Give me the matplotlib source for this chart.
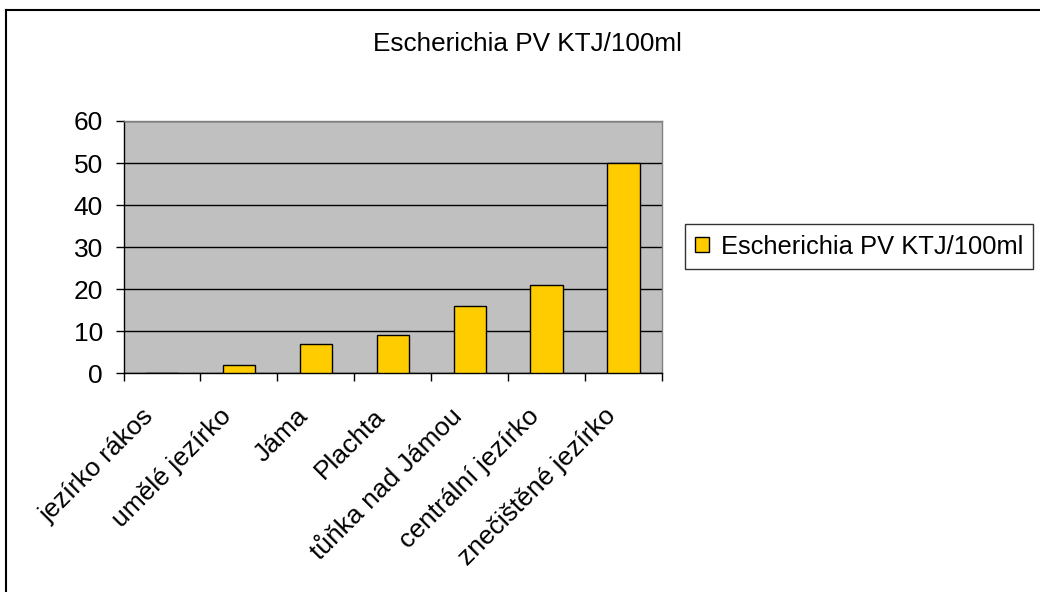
import matplotlib
matplotlib.use("Agg")
import matplotlib.pyplot as plt
from matplotlib.lines import Line2D
from matplotlib.transforms import ScaledTranslation
import numpy as np

categories = ["jezírko rákos", "umělé jezírko", "Jáma", "Plachta",
              "tůňka nad Jámou", "centrální jezírko", "znečištěné jezírko"]
values = [0, 2, 7, 9, 16, 21, 50]
series_name = "Escherichia PV KTJ/100ml"
title = "Escherichia PV KTJ/100ml"
yticks = [0, 10, 20, 30, 40, 50, 60]

plt.rcParams['font.family'] = ['Liberation Sans', 'DejaVu Sans']

fig = plt.figure(figsize=(10.4, 5.92), dpi=100)
W, H = 1040, 592
left, right, top, bottom = 123.5, 662, 121, 373.3
ax = fig.add_axes([left / W, 1 - bottom / H, (right - left) / W, (bottom - top) / H])
ax.set_facecolor("#C0C0C0")

x = np.arange(len(categories))
ax.bar(x, values, width=0.42, color="#FFCC00", edgecolor="black", linewidth=1.0,
       label=series_name, zorder=3)

ax.set_xlim(-0.5, len(categories) - 0.5)
ax.set_ylim(0, 60)
ax.set_yticks(yticks)
ax.set_yticklabels([str(v) for v in yticks], fontsize=19)
ax.yaxis.grid(True, color="black", linewidth=1.0, zorder=1)
ax.set_axisbelow(True)

ax.set_xticks(x)
ax.set_xticklabels(categories, fontsize=19, rotation=45, ha="right",
                   rotation_mode="anchor")
ax.tick_params(axis="x", which="major", length=0, pad=22)
off = ScaledTranslation(-20 / 100, 0, fig.dpi_scale_trans)
for lab in ax.get_xticklabels():
    lab.set_transform(lab.get_transform() + off)
ax.set_xticks(np.arange(-0.5, len(categories) + 0.5, 1), minor=True)
ax.tick_params(axis="x", which="minor", length=5.5, width=1, color="black")
ax.tick_params(axis="y", length=5.8, width=1, color="black", pad=9)

for s in ["top", "right"]:
    ax.spines[s].set_color("#808080")
    ax.spines[s].set_linewidth(1.0)
for s in ["left", "bottom"]:
    ax.spines[s].set_color("black")
    ax.spines[s].set_linewidth(1.0)

fig.text(527 / W, 1 - 44 / H, title, fontsize=18.8, ha="center", va="center")

leg = fig.legend(loc="center left", bbox_to_anchor=(685 / W, 1 - 246.5 / H),
                 fontsize=18.4, frameon=True, fancybox=False, shadow=False,
                 handlelength=0.55, handleheight=0.55, handletextpad=0.45,
                 borderpad=0.4, borderaxespad=0)
leg.get_frame().set_edgecolor("black")
leg.get_frame().set_linewidth(1.0)

# outer chart border (only top and left visible)
fig.add_artist(Line2D([6 / W, 1], [1 - 9.5 / H, 1 - 9.5 / H], color="black",
                      linewidth=1.5, transform=fig.transFigure))
fig.add_artist(Line2D([6 / W, 6 / W], [0, 1 - 9.5 / H], color="black",
                      linewidth=1.5, transform=fig.transFigure))

fig.savefig("out.png", dpi=100)
